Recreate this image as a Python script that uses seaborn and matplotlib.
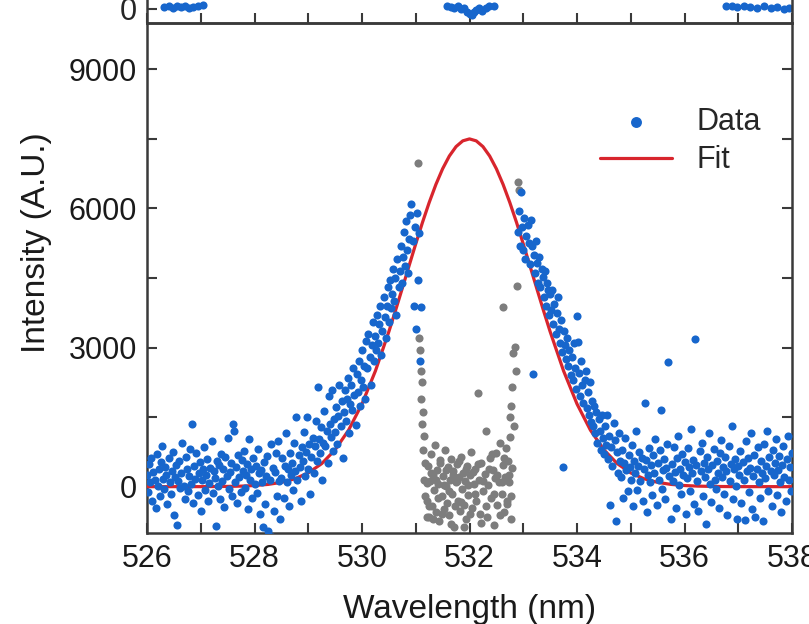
import matplotlib
matplotlib.use("Agg")
import matplotlib.pyplot as plt
from matplotlib.ticker import MultipleLocator
import pandas as pd
import seaborn as sns

# ---------------- data ----------------
left_wl = [526.00, 526.02, 526.04, 526.06, 526.08, 526.10, 526.12, 526.14, 526.16, 526.18,
           526.20, 526.22, 526.24, 526.26, 526.28, 526.30, 526.32, 526.34, 526.36, 526.38,
           526.40, 526.42, 526.44, 526.46, 526.48, 526.50, 526.52, 526.54, 526.56, 526.58,
           526.60, 526.62, 526.64, 526.66, 526.68, 526.70, 526.72, 526.74, 526.76, 526.78,
           526.80, 526.82, 526.84, 526.86, 526.88, 526.90, 526.92, 526.94, 526.96, 526.98,
           527.00, 527.02, 527.04, 527.06, 527.08, 527.10, 527.12, 527.14, 527.16, 527.18,
           527.20, 527.22, 527.24, 527.26, 527.28, 527.30, 527.32, 527.34, 527.36, 527.38,
           527.40, 527.42, 527.44, 527.46, 527.48, 527.50, 527.52, 527.54, 527.56, 527.58,
           527.60, 527.62, 527.64, 527.66, 527.68, 527.70, 527.72, 527.74, 527.76, 527.78,
           527.80, 527.82, 527.84, 527.86, 527.88, 527.90, 527.92, 527.94, 527.96, 527.98,
           528.00, 528.02, 528.04, 528.06, 528.08, 528.10, 528.12, 528.14, 528.16, 528.18,
           528.20, 528.22, 528.24, 528.26, 528.28, 528.30, 528.32, 528.34, 528.36, 528.38,
           528.40, 528.42, 528.44, 528.46, 528.48]
left_int = [250, -120, 480, 90, 620, -300, 310, 150, -450, 700,
            20, 380, -210, 540, 880, 160, -60, 420, 260, -380,
            610, 90, -150, 330, 750, -620, 200, 470, -820, 120,
            560, -40, 300, 950, 10, -260, 640, 380, -90, 230,
            820, 60, 1360, -350, 450, 170, 720, -180, 290, 530,
            -520, 140, 390, 860, -70, 250, 600, -310, 80, 410,
            990, -140, 330, 180, -850, 560, 20, 470, -260, 700,
            120, 380, -430, 640, 240, 1050, -60, 310, 520, -200,
            1360, 1200, 90, 430, -350, 680, 210, -110, 570, 330,
            760, -20, 250, 490, -480, 1020, 150, 380, -240, 610,
            60, 440, -130, 820, 290, -600, 360, 110, -870, 530,
            -380, 240, 660, -950, 150, 920, -1080, 400, -520, 310,
            730, -200, 980, 120, -700]

rise_wl = [528.50, 528.52, 528.54, 528.56, 528.58, 528.60, 528.62, 528.64, 528.66, 528.68,
           528.70, 528.72, 528.74, 528.76, 528.78, 528.80, 528.82, 528.84, 528.86, 528.88,
           528.90, 528.92, 528.94, 528.96, 528.98, 529.00, 529.02, 529.04, 529.06, 529.08,
           529.10, 529.12, 529.14, 529.16, 529.18, 529.20, 529.22, 529.24, 529.26, 529.28,
           529.30, 529.32, 529.34, 529.36, 529.38, 529.40, 529.42, 529.44, 529.46, 529.48,
           529.50, 529.52, 529.54, 529.56, 529.58, 529.60, 529.62, 529.64, 529.66, 529.68,
           529.70, 529.72, 529.74, 529.76, 529.78, 529.80, 529.82, 529.84, 529.86, 529.88,
           529.90, 529.92, 529.94, 529.96, 529.98, 530.00, 530.02, 530.04, 530.06, 530.08,
           530.10, 530.12, 530.14, 530.16, 530.18, 530.20, 530.22, 530.24, 530.26, 530.28,
           530.30, 530.32, 530.34, 530.36, 530.38, 530.40, 530.42, 530.44, 530.46, 530.48,
           530.50, 530.52, 530.54, 530.56, 530.58, 530.60, 530.62, 530.64, 530.66, 530.68,
           530.70, 530.72, 530.74, 530.76, 530.78, 530.80, 530.82, 530.84, 530.86, 530.88,
           530.90, 530.92, 530.94, 530.96, 530.98, 531.00, 531.02, 531.04, 531.06, 531.08,
           531.10]
rise_int = [180, 620, -250, 450, 1150, 90, 380, -420, 720, 260,
            510, -80, 940, 330, 1500, 140, 690, 420, -300, 850,
            560, 1180, 230, 740, 1510, 380, 920, -150, 640, 1050,
            300, 880, 1420, 560, 2140, 1020, 720, 1280, 150, 950,
            1640, 880, 1200, 520, 1960, 1350, 1080, 2090, 760, 1460,
            1180, 1720, 930, 1520, 2190, 1300, 1850, 620, 1600, 2080,
            1420, 1900, 2350, 1150, 1780, 2200, 1650, 2560, 1980, 1320,
            2420, 2050, 2700, 1750, 2300, 2950, 2150, 2600, 1900, 3150,
            2550, 3300, 2800, 2200, 3050, 3550, 2700, 3250, 2950, 3700,
            3100, 3500, 3900, 2850, 3350, 4100, 3650, 3200, 3900, 4300,
            3550, 4450, 3850, 4150, 4700, 4000, 4500, 3700, 4900, 4300,
            4650, 5200, 4400, 4950, 5500, 4750, 5720, 5100, 4600, 5350,
            5850, 6090, 5300, 3900, 5600, 3400, 5900, 4450, 5480, 2700,
            3880]

fall_wl = [532.90, 532.92, 532.94, 532.96, 532.98, 533.00, 533.02, 533.04, 533.06, 533.08,
           533.10, 533.12, 533.14, 533.16, 533.18, 533.20, 533.22, 533.24, 533.26, 533.28,
           533.30, 533.32, 533.34, 533.36, 533.38, 533.40, 533.42, 533.44, 533.46, 533.48,
           533.50, 533.52, 533.54, 533.56, 533.58, 533.60, 533.62, 533.64, 533.66, 533.68,
           533.70, 533.72, 533.74, 533.76, 533.78, 533.80, 533.82, 533.84, 533.86, 533.88,
           533.90, 533.92, 533.94, 533.96, 533.98, 534.00, 534.02, 534.04, 534.06, 534.08,
           534.10, 534.12, 534.14, 534.16, 534.18, 534.20, 534.22, 534.24, 534.26, 534.28,
           534.30, 534.32, 534.34, 534.36, 534.38, 534.40, 534.42, 534.44, 534.46, 534.48,
           534.50, 534.52, 534.54, 534.56, 534.58, 534.60, 534.62, 534.64, 534.66, 534.68,
           534.70, 534.72, 534.74, 534.76, 534.78, 534.80]
fall_int = [5500, 5950, 5200, 6350, 5600, 5110, 5800, 4900, 5400, 5650,
            5250, 4800, 5760, 5180, 2420, 5000, 4600, 5300, 4830, 4400,
            4950, 4300, 4700, 4530, 4100, 4650, 3900, 4400, 4250, 3700,
            4150, 3800, 4250, 3500, 3950, 3300, 3750, 4100, 3400, 3100,
            3600, 2900, 430, 3350, 3050, 2750, 3200, 2600, 2950, 2400,
            2800, 2300, 3100, 2550, 2100, 3670, 3110, 2450, 1950, 2700,
            2200, 1800, 2310, 2500, 1700, 2050, 1550, 2250, 1400, 1850,
            1300, 1750, 1150, 1600, 950, 1450, 1200, 800, 1550, 1050,
            700, 1300, 900, 1550, 600, 1100, -390, 850, 450, 1380,
            1000, -750, 750, 300, 1150, 550]

right_wl = [534.82, 534.84, 534.86, 534.88, 534.90, 534.92, 534.94, 534.96, 534.98, 535.00,
            535.02, 535.04, 535.06, 535.08, 535.10, 535.12, 535.14, 535.16, 535.18, 535.20,
            535.22, 535.24, 535.26, 535.28, 535.30, 535.32, 535.34, 535.36, 535.38, 535.40,
            535.42, 535.44, 535.46, 535.48, 535.50, 535.52, 535.54, 535.56, 535.58, 535.60,
            535.62, 535.64, 535.66, 535.68, 535.70, 535.72, 535.74, 535.76, 535.78, 535.80,
            535.82, 535.84, 535.86, 535.88, 535.90, 535.92, 535.94, 535.96, 535.98, 536.00,
            536.02, 536.04, 536.06, 536.08, 536.10, 536.12, 536.14, 536.16, 536.18, 536.20,
            536.22, 536.24, 536.26, 536.28, 536.30, 536.32, 536.34, 536.36, 536.38, 536.40,
            536.42, 536.44, 536.46, 536.48, 536.50, 536.52, 536.54, 536.56, 536.58, 536.60,
            536.62, 536.64, 536.66, 536.68, 536.70, 536.72, 536.74, 536.76, 536.78, 536.80,
            536.82, 536.84, 536.86, 536.88, 536.90, 536.92, 536.94, 536.96, 536.98, 537.00,
            537.02, 537.04, 537.06, 537.08, 537.10, 537.12, 537.14, 537.16, 537.18, 537.20,
            537.22, 537.24, 537.26, 537.28, 537.30, 537.32, 537.34, 537.36, 537.38, 537.40,
            537.42, 537.44, 537.46, 537.48, 537.50, 537.52, 537.54, 537.56, 537.58, 537.60,
            537.62, 537.64, 537.66, 537.68, 537.70, 537.72, 537.74, 537.76, 537.78, 537.80,
            537.82, 537.84, 537.86, 537.88, 537.90, 537.92, 537.94, 537.96, 537.98, 538.00]
right_int = [200, 800, -250, 520, 1050, 350, -100, 680, 420, 150,
             900, -420, 560, 300, 1200, -80, 450, 750, 120, 620,
             -300, 380, 1810, 580, -550, 250, 840, 110, 470, -180,
             690, 300, 1020, -390, 520, 150, 780, 1660, -60, 360,
             600, -270, 410, 920, 2680, 220, -700, 480, 130, 860,
             310, -460, 620, 1100, 40, 390, -150, 700, 260, 540,
             -600, 180, 830, 430, -90, 1250, 290, 580, -380, 3190,
             460, 120, -520, 760, 340, 950, -200, 500, 200, -800,
             650, 380, 1150, 60, -330, 470, 820, 150, -50, 560,
             290, -450, 720, 1000, 210, 430, -150, 640, 330, -620,
             870, 120, 480, 1300, -260, 380, 590, 20, -700, 450,
             260, 770, -360, 530, 140, -710, 980, 340, 620, -120,
             410, 1150, -480, 230, 690, -650, 370, 850, 100, -250,
             560, 290, -740, 920, 180, 450, 1200, -90, 640, 330,
             -420, 780, 250, 510, 1020, -180, 360, 660, 90, -540,
             470, 880, 210, -300, 600, 1100, 150, 420, -100, 720]

# points inside the notch-filter band (grey)
gray_wl = [531.04, 531.06, 531.08, 531.10, 531.12, 531.09, 531.14, 531.11, 531.16, 531.13,
           531.18, 531.15, 531.17, 531.20,
           531.20, 531.22, 531.24, 531.26, 531.28, 531.30, 531.32, 531.34, 531.36, 531.38,
           531.40, 531.42, 531.44, 531.46, 531.48, 531.50, 531.52, 531.54, 531.56, 531.58,
           531.60, 531.62, 531.64, 531.66, 531.68, 531.70, 531.72, 531.74, 531.76, 531.78,
           531.80, 531.82, 531.84, 531.86, 531.88, 531.90, 531.92, 531.94, 531.96, 531.98,
           532.00, 532.03, 532.05, 532.08, 532.10, 532.12, 532.15, 532.17, 532.20, 532.22,
           532.25, 532.28, 532.30, 532.33, 532.35, 532.38, 532.40, 532.43, 532.45, 532.48,
           532.50, 532.52, 532.55, 532.57, 532.60, 532.62, 532.64, 532.66, 532.68, 532.70,
           532.72, 532.74, 532.76, 532.78, 532.80,
           531.21, 531.25, 531.29, 531.33, 531.37, 531.41, 531.45, 531.49, 531.53, 531.57,
           531.61, 531.65, 531.69, 531.73, 531.77, 531.81, 531.85, 531.89, 531.93, 531.97,
           532.01, 532.06, 532.11, 532.16, 532.21, 532.26, 532.31, 532.36, 532.41, 532.46,
           532.51, 532.56, 532.61, 532.65, 532.69, 532.73, 532.77,
           532.90, 532.92, 532.88, 532.63, 532.81, 532.79, 532.75, 532.84, 532.86, 532.78,
           532.82]
gray_int = [6990, 3200, 2950, 2500, 2250, 1900, 1600, 1350, 1100, 800,
            500, 150, -200, -650,
            -300, 450, -650, 120, 700, -420, 260, -80, 900, -550,
            350, 50, -750, 580, -200, 220, -480, 780, 10, -350,
            420, -620, 150, 600, -150, 330, -870, 90, 480, -300,
            200, -520, 650, -60, 300, -400, 120, -700, 450, -180,
            250, 755, -450, 60, 380, -300, 2010, 150, -580, 520,
            -100, 280, 1190, -650, 40, 620, -250, 350, -820, 180,
            720, -400, 90, 950, -150, 460, -550, 200, 830, -320,
            550, 100, 1080, -200, 400,
            80, -420, 300, -700, 150, -250, 500, -600, 30, 350,
            -100, -800, 260, -420, 120, 550, -330, -880, 380, 40,
            -580, 320, -150, 480, -780, 130, -420, 380, 700, -150,
            250, -620, 100, 620, -380, 260, -700,
            6560, 6400, 4320, 3880, 2890, 2140, 1510, 3020, 2500, 1750,
            1300]

# Gaussian fit curve
fit_wl = [526.0, 526.5, 527.0, 527.25, 527.5, 527.75, 528.0, 528.25, 528.5, 528.75,
          529.0, 529.25, 529.5, 529.75, 530.0, 530.25, 530.5, 530.625, 530.75, 530.875,
          531.0, 531.125, 531.25, 531.375, 531.5, 531.625, 531.75, 531.875, 532.0,
          532.125, 532.25, 532.375, 532.5, 532.625, 532.75, 532.875, 533.0, 533.125,
          533.25, 533.375, 533.5, 533.75, 534.0, 534.25, 534.5, 534.75, 535.0, 535.25,
          535.5, 535.75, 536.0, 536.25, 536.5, 536.75, 537.0, 537.5, 538.0]
fit_int = [0, 0, 0, 2, 5, 11, 24, 48, 92, 169,
           296, 496, 795, 1218, 1784, 2497, 3344, 3804, 4280, 4761,
           5237, 5698, 6128, 6518, 6856, 7131, 7334, 7458, 7500,
           7458, 7334, 7131, 6856, 6518, 6128, 5698, 5237, 4761,
           4280, 3804, 3344, 2497, 1784, 1218, 795, 496, 296, 169,
           92, 48, 24, 11, 5, 2, 0, 0, 0]

# bottom of the panel above (only a sliver visible)
upper_wl = [526.32, 526.40, 526.48, 526.55, 526.63, 526.70, 526.78, 526.86, 526.95, 527.05,
            531.58, 531.65, 531.72, 531.78, 531.84, 531.90, 531.95, 532.00, 532.04, 532.08,
            532.13, 532.18, 532.24, 532.30, 532.37, 532.45,
            536.78, 536.88, 536.98, 537.10, 537.22, 537.35, 537.48, 537.60, 537.72, 537.85,
            537.95]
upper_int = [150, 250, 80, 200, 120, 260, 60, 180, 240, 300,
             250, 150, 50, 200, -50, 100, -250, -400, -550, -300,
             -100, 50, -150, 100, 200, 260,
             260, 200, 120, 280, 180, 80, 220, 50, 150, -20,
             100]

x_ticks = [526, 528, 530, 532, 534, 536, 538]
y_ticks = [0, 3000, 6000, 9000]

# ---------------- plotting ----------------
sns.set_style("ticks")
plt.rcParams["font.family"] = ["Liberation Sans", "DejaVu Sans"]

BLUE = "#1766cc"
GRAY = "#7d7d7d"
RED = "#d8252d"
SPINE = "#3a3a3a"
MS = 34

blue_df = pd.DataFrame({"wl": left_wl + rise_wl + fall_wl + right_wl,
                        "inten": left_int + rise_int + fall_int + right_int})
gray_df = pd.DataFrame({"wl": gray_wl, "inten": gray_int})
fit_df = pd.DataFrame({"wl": fit_wl, "inten": fit_int})
upper_df = pd.DataFrame({"wl": upper_wl, "inten": upper_int})

W, H = 809, 624
fig = plt.figure(figsize=(W / 100, H / 100), dpi=100)
L, R, T, B = 147 / W, 792 / W, 1 - 23 / H, 1 - 533 / H
ax = fig.add_axes([L, B, R - L, T - B])
axu = fig.add_axes([L, T, R - L, 0.25])

sns.scatterplot(data=gray_df, x="wl", y="inten", ax=ax, color=GRAY, s=MS,
                linewidth=0, zorder=2, legend=False)
sns.lineplot(data=fit_df, x="wl", y="inten", ax=ax, color=RED, lw=2.3,
             sort=False, estimator=None, zorder=3, label="Fit")
sns.scatterplot(data=blue_df, x="wl", y="inten", ax=ax, color=BLUE, s=MS,
                linewidth=0, zorder=4, label="Data")

ax.set_xlim(526, 538)
ax.set_ylim(-1000, 10000)
ax.set_xticks(x_ticks)
ax.set_yticks(y_ticks)
ax.xaxis.set_minor_locator(MultipleLocator(1))
ax.yaxis.set_minor_locator(MultipleLocator(1500))
ax.tick_params(which="both", direction="in", top=False, right=True,
               length=7, width=1.5, color=SPINE)
ax.tick_params(axis="x", labelsize=22, pad=8, labelcolor="#1a1a1a")
ax.tick_params(axis="y", labelsize=22, pad=7, labelcolor="#1a1a1a")
for sp in ax.spines.values():
    sp.set_linewidth(1.8)
    sp.set_color(SPINE)
ax.set_xlabel("Wavelength (nm)", fontsize=24, labelpad=14, color="#1a1a1a")
ax.set_ylabel("Intensity (A.U.)", fontsize=24, color="#1a1a1a")
ax.yaxis.set_label_coords(-0.148, 0.569)

handles, labels = ax.get_legend_handles_labels()
order = [labels.index("Data"), labels.index("Fit")]
ax.legend([handles[i] for i in order], [labels[i] for i in order],
          loc="upper left", bbox_to_anchor=(600 / W, 1 - 107 / H),
          bbox_transform=fig.transFigure, frameon=False, fontsize=22,
          handlelength=2.35, handletextpad=0.8, labelspacing=0.27,
          borderpad=0, borderaxespad=0, markerscale=1.35)

# sliver of the upper panel
sns.scatterplot(data=upper_df, x="wl", y="inten", ax=axu, color=BLUE, s=MS,
                linewidth=0, legend=False)
axu.set_xlim(526, 538)
axu.set_ylim(-1200, 12000)
axu.set_xticks(x_ticks)
axu.xaxis.set_minor_locator(MultipleLocator(1))
axu.set_yticks([0])
axu.tick_params(which="both", direction="in", top=False, right=False,
                length=7, width=1.5, color=SPINE, labelbottom=False,
                labelsize=22, pad=7)
axu.spines["top"].set_visible(False)
for sp in axu.spines.values():
    sp.set_linewidth(1.8)
    sp.set_color(SPINE)
axu.set_xlabel("")
axu.set_ylabel("")
axu.patch.set_alpha(0)

fig.savefig("out.png", dpi=100)
